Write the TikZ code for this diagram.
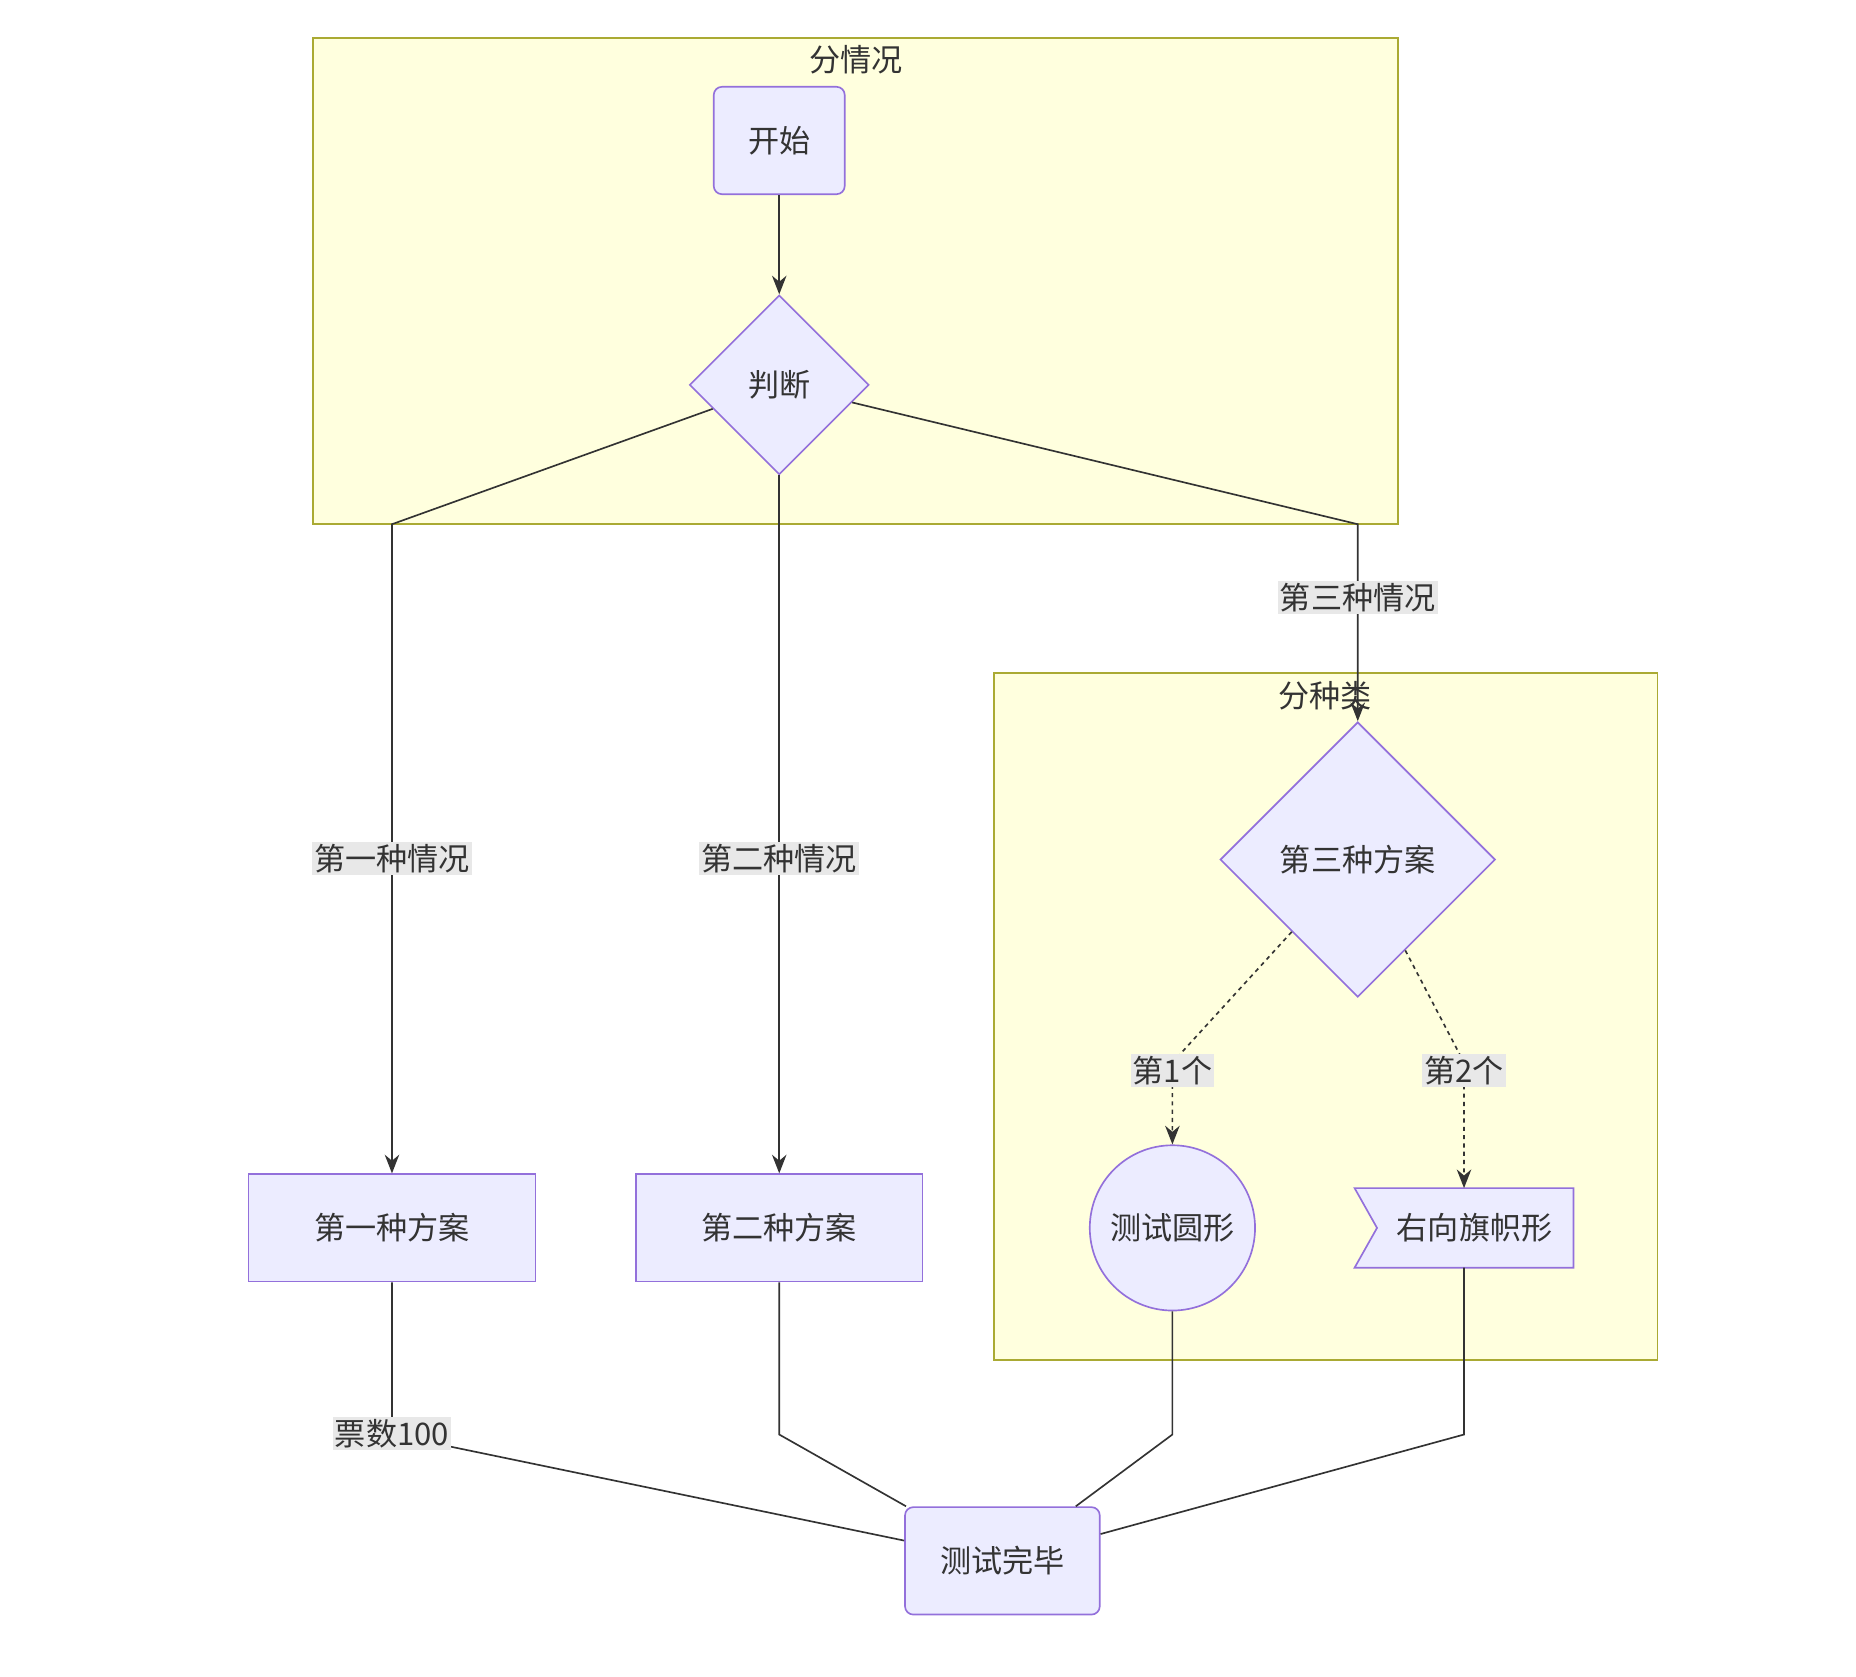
\documentclass[tikz,border=0pt]{standalone}
\usepackage{fontspec}
\setmainfont{Noto Sans CJK SC}
\usetikzlibrary{arrows.meta,shapes.geometric,positioning}
\definecolor{nodefill}{HTML}{ECECFF}
\definecolor{nodeline}{HTML}{9370DB}
\definecolor{clusterfill}{HTML}{FFFFDE}
\definecolor{clusterline}{HTML}{AAAA33}
\definecolor{textcol}{HTML}{333333}
\definecolor{labelfill}{HTML}{E8E8E8}
\tikzset{>={Stealth[length=9pt,width=7pt]},
	cluster/.style={draw=clusterline,fill=clusterfill,line width=0.8pt},
	ctitle/.style={text=textcol,font=\fontsize{15}{18}\selectfont},
	box/.style={rectangle,draw=nodeline,fill=nodefill,line width=0.8pt,text=textcol,font=\fontsize{15}{18}\selectfont,minimum width=4.86cm,minimum height=1.82cm},
	rbox/.style={box,rounded corners=4pt},
	dia/.style={diamond,aspect=1,draw=nodeline,fill=nodefill,line width=0.8pt,text=textcol,font=\fontsize{15}{18}\selectfont,inner sep=0pt},
	circ/.style={circle,draw=nodeline,fill=nodefill,line width=0.8pt,text=textcol,font=\fontsize{15}{18}\selectfont,minimum size=2.8cm},
	elabel/.style={fill=labelfill,text=textcol,font=\fontsize{15}{18}\selectfont,inner sep=1pt},
	edge/.style={draw=textcol,line width=0.8pt},
	dedge/.style={edge,dash pattern=on 2pt off 2pt}}
\begin{document}
\begin{tikzpicture}[x=0.02cm,y=-0.02cm]
	\useasboundingbox (0,0) rectangle (1572,1420);
	% clusters
	\draw[cluster] (265,32) rectangle (1184,444);
	\node[ctitle] (T1) at (725,51) {分情况};
	\draw[cluster] (842,570) rectangle (1404,1152);
	\node[ctitle] (T2) at (1122,589) {分种类};
	% nodes
	\node[rbox,minimum width=2.22cm] (S) at (660,119) {开始};
	\node[dia,minimum width=3.04cm,minimum height=3.04cm] (J) at (660,326) {判断};
	\node[box] (P1) at (332,1040) {第一种方案};
	\node[box] (P2) at (660,1040) {第二种方案};
	\node[dia,minimum width=4.66cm,minimum height=4.66cm] (P3) at (1150,728) {第三种方案};
	\node[circ] (C) at (993,1040) {测试圆形};
	\node[box,draw=none,fill=none,minimum width=3.68cm,minimum height=1.32cm] (F) at (1240,1040) {};
	\fill[nodefill,draw=nodeline,line width=0.8pt] (F.north west) -- (F.north east) -- (F.south east) -- (F.south west) -- ([xshift=0.38cm]F.west) -- cycle;
	\node[text=textcol,font=\fontsize{15}{18}\selectfont] (FT) at (1249,1040) {右向旗帜形};
	\node[rbox,minimum width=3.3cm] (E) at (849,1322) {测试完毕};
	% edges
	\draw[edge,->] (S) -- (J);
	\draw[edge,->] (J) -- (332,444) -- (P1);
	\draw[edge,->] (J) -- (P2);
	\draw[edge,->] (J) -- (1150,444) -- (P3);
	\draw[dedge,->] (P3) -- (993,900) -- (C);
	\draw[dedge,->] (P3) -- (1240,900) -- (F);
	\draw[edge] (P1) -- (332,1215) -- (E);
	\draw[edge] (P2) -- (660,1215) -- (E);
	\draw[edge] (C) -- (993,1215) -- (E);
	\draw[edge] (F) -- (1240,1215) -- (E);
	% labels
	\node[elabel] (L1) at (332,727) {第一种情况};
	\node[elabel] (L2) at (660,727) {第二种情况};
	\node[elabel] (L3) at (1150,506) {第三种情况};
	\node[elabel] (L4) at (993,907) {第1个};
	\node[elabel] (L5) at (1240,907) {第2个};
	\node[elabel] (L6) at (332,1214) {票数100};
\end{tikzpicture}
\end{document}
